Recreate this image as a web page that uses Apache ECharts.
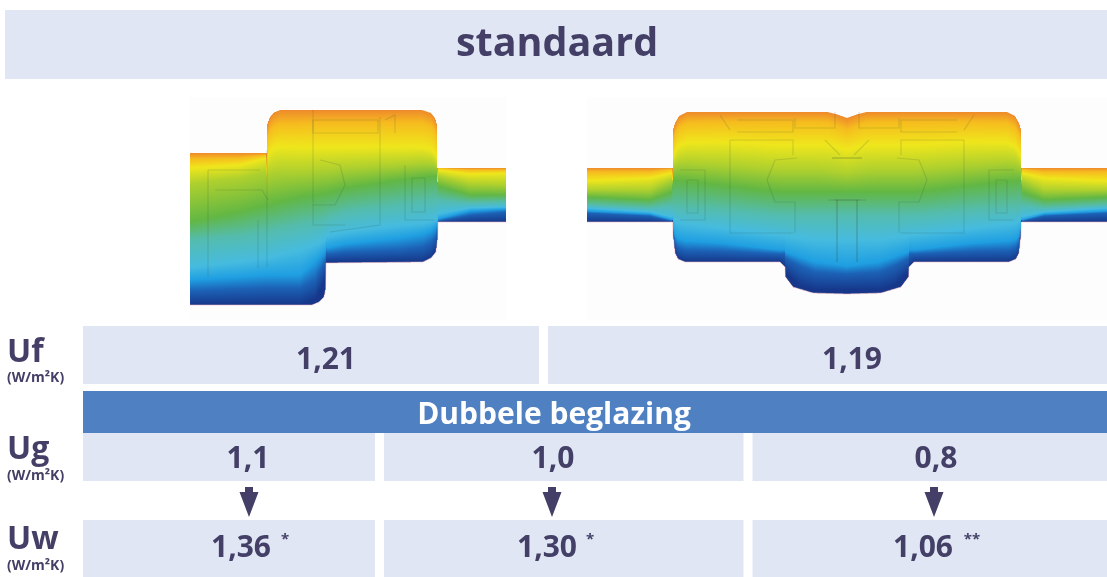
<!DOCTYPE html>
<html><head><meta charset="utf-8">
<style>html,body{margin:0;padding:0;background:#fff}#c{width:1107px;height:577px}</style>
<script src="https://cdn.jsdelivr.net/npm/echarts@6/dist/echarts.min.js"></script>
</head><body><div id="c"></div>
<script>
// ---- table values ----
const title = 'standaard';
const glazingLabel = 'Dubbele beglazing';
const unitLabel = '(W/m²K)';
const rowNames = ['Uf', 'Ug', 'Uw'];
const ufValues = ['1,21', '1,19'];
const ugValues = ['1,1', '1,0', '0,8'];
const uwValues = ['1,36', '1,30', '1,06'];
const uwNotes = ['*', '*', '**'];

// ---- thermal picture: colour of each isotherm ----
const isoColors = ['#ee8a2c','#f6bc1e','#efe61c','#aed02e','#62b744','#54bcae','#46bbdf','#1f9fe2','#1c62b6','#16378a'];

// left section: outline and isotherm heights
const leftTop = [[190,153],[266.5,153],[267,125],[270,117],[274,112.5],[280,110],[422,110],[431,113],[435,118],[437,125],[437.5,168],[506,168]];
const leftBottom = [[190,305],[312,305],[319,302],[324,297],[325.5,290],[326,263],[423,262],[431,258],[436,252],[437.5,240],[438,222],[506,222]];
const leftKnots = [190,240,266,267,300,315,325,327,345,400,437,438,470,506];
const leftIso = [
 [153,153,153,110,110,110,110,110,110,110,110,168,168,168],
 [159,158,155,124,124,123,123,123,123,123,123,168,170,170],
 [168,165,158,146,147,147,147,147,147,147,147,170,174,173],
 [184,178,172,172,172,171,170,170,168,165,162,176,184,185],
 [222,212,205,205,197,195,193,193,188,180,176,186,195,195],
 [240,236,232,232,225,222,220,218,212,205,200,200,203,202],
 [267,262,258,258,250,245,240,236,232,225,222,214,208,207],
 [280,277,275,275,275,262,252,248,244,238,232,219,211,209],
 [291,289,288,288,288,280,262,254,252,250,245,221,215,212],
 [305,305,305,305,305,300,280,262,262,262,262,222,222,222]
];

// right section (symmetric about its centre): left half
const rightCentre = 847;
const rightTop = [[587,168],[672.5,168],[673,130],[675,123],[679,116],[687,112],[828,112],[836,114],[847,118]];
const rightBottom = [[587,222],[672.5,222],[673,235],[675,253],[678,259],[685,262],[780,262],[785,267],[785.5,277],[793,287],[813,293],[847,294]];
const rightKnots = [587,650,672,673,720,780,785,800,815,847];
const rightIso = [
 [168,168,168,112,112,112,112,112,112,112],
 [172,172,169,123,122,122,122,122,122,124],
 [181,178,173,143,142,145,145,145,145,145],
 [190,190,180,162,165,170,170,170,170,172],
 [197,200,192,180,185,192,192,192,192,192],
 [205,208,205,207,210,215,215,215,215,215],
 [208,212,217,223,228,235,236,238,240,240],
 [211,214,220,240,243,250,252,257,262,266],
 [213,216,221,250,251,254,258,266,272,274],
 [222,222,222,262,262,262,272,286,290,290]
];

// faint profile lines inside the sections
const leftProfiles = [
 [[412,178],[425,178],[425,212],[412,212],[412,178]],
 [[405,165],[405,220],[435,220]],
 [[208,170],[208,277]],[[208,170],[260,170]],[[215,190],[262,190],[268,200]],
 [[267,150],[267,267]],[[258,220],[258,268]],
 [[313,120],[378,120],[378,133],[313,133],[313,120]],
 [[313,110],[313,225],[345,225]],[[380,117],[380,225],[330,232]],
 [[320,160],[340,165],[345,185],[335,205],[313,205]],
 [[385,120],[395,115],[395,133]]
];
const rightProfiles = [
 [[687,180],[698,180],[698,213],[687,213],[687,180]],
 [[680,170],[705,170],[705,220],[680,220]],
 [[730,140],[793,140],[793,155]],[[730,140],[730,233],[793,233]],
 [[737,120],[793,120],[793,132],[737,132]],
 [[797,158],[775,160],[767,180],[775,202],[795,202],[795,233]],
 [[832,158],[862,158]],[[837,200],[837,262]],[[857,200],[857,262]],
 [[828,200],[860,200]],[[795,118],[795,128],[835,128],[835,112]],
 [[720,115],[730,130]],[[825,140],[840,155]]
];

// ---- layout (pixels of the 1107x577 page) ----
const W = 1107, H = 577;
const textColor = '#433f66', cellColor = '#e0e6f4', blue = '#4f81c2';
const font = '"Open Sans","Noto Sans",sans-serif';
const bands = [[5,10,1107,79,cellColor],[83,326,539,384,cellColor],[548,326,1107,384,cellColor],
 [83,391,1107,433,blue],[83,433,375,481,cellColor],[384,433,743.5,481,cellColor],[752.5,433,1107,481,cellColor],
 [83,520,375,577,cellColor],[384,520,743.5,577,cellColor],[752.5,520,1107,577,cellColor],
 [190,97,506,320,'#fdfdfe'],[587,97,1107,320,'#fdfdfe']];
const arrowX = [249,552,934];
const topWeight = [1,1,0.8,0.3,0,0,0,0,0,0];
const botWeight = [0,0,0,0,0,0,0.2,0.5,0.8,1];

function lerp(xs, ys, x){
  if (x <= xs[0]) return ys[0];
  for (let i = 1; i < xs.length; i++) if (x <= xs[i]) {
    return ys[i-1] + (ys[i]-ys[i-1])*(x-xs[i-1])/(xs[i]-xs[i-1]);
  }
  return ys[ys.length-1];
}
const edge = (pts, x) => lerp(pts.map(p=>p[0]), pts.map(p=>p[1]), x);

function column(x, sx, topPts, botPts, knots, iso){
  const top = edge(topPts, sx), bot = edge(botPts, sx);
  const ys = iso.map(r => lerp(knots, r, sx));
  const dT = Math.max(0, top - ys[0]), dB = Math.min(0, bot - ys[9]);
  const stops = []; let prev = 0;
  ys.forEach((y,j) => {
    const yy = y + topWeight[j]*dT + botWeight[j]*dB;
    let o = (yy-top)/(bot-top);
    o = Math.max(prev, Math.min(1,o)); prev = o;
    stops.push({offset:o, color:isoColors[j]});
  });
  return {x, top, bot, stops};
}
const columns = [];
for (let x = 190; x < 506; x++) columns.push(column(x, x+0.5, leftTop, leftBottom, leftKnots, leftIso));
for (let x = 587; x < 1107; x++) {
  const sx = x+0.5 <= rightCentre ? x+0.5 : 2*rightCentre-(x+0.5);
  columns.push(column(x, sx, rightTop, rightBottom, rightKnots, rightIso));
}
const mirror = pts => pts.map(p => [2*rightCentre-p[0], p[1]]);
const profiles = leftProfiles.concat(rightProfiles, rightProfiles.map(mirror));
const rims = [leftBottom, rightBottom, mirror(rightBottom)];

const chart = echarts.init(document.getElementById('c'), null, {renderer:'canvas'});

function txt(t, x, y, size, opt){
  return {type:'text', x, y, silent:true, z:10, style:Object.assign({text:t, fill:textColor, font:`700 ${size}px ${font}`, textAlign:'center', textVerticalAlign:'middle'}, opt||{})};
}
const texts = [
  txt(title, 557, 45, 39.5),
  txt(glazingLabel, 554, 415, 30, {fill:'#fff'}),
  txt(ufValues[0], 326, 360, 30), txt(ufValues[1], 852, 360, 30),
  txt(ugValues[0], 248, 459, 30), txt(ugValues[1], 553, 459, 30), txt(ugValues[2], 936, 459, 30),
  txt(uwValues[0], 241, 548, 30), txt(uwValues[1], 547, 548, 30), txt(uwValues[2], 923, 548, 30),
  txt(uwNotes[0], 285, 540, 15), txt(uwNotes[1], 590, 540, 15), txt(uwNotes[2], 972, 540, 15),
  txt(rowNames[0], 7, 353, 32, {textAlign:'left'}), txt(unitLabel, 7, 378, 14, {textAlign:'left'}),
  txt(rowNames[1], 7, 450, 32, {textAlign:'left'}), txt(unitLabel, 7, 476, 14, {textAlign:'left'}),
  txt(rowNames[2], 7, 540, 32, {textAlign:'left'}), txt(unitLabel, 7, 566, 14, {textAlign:'left'})
];

chart.setOption({
  animation:false,
  grid:{left:0,right:0,top:0,bottom:0,containLabel:false},
  xAxis:{type:'value',min:0,max:W,show:false},
  yAxis:{type:'value',min:0,max:H,inverse:true,show:false},
  graphic:{elements:texts},
  series:[
    {type:'custom',silent:true,z:1,clip:false,data:bands.map(b=>[b[0],b[1],b[2],b[3]]),
     renderItem:(p,api)=>{const b=bands[p.dataIndex];const a=api.coord([b[0],b[1]]),c=api.coord([b[2],b[3]]);
       return {type:'rect',shape:{x:a[0],y:a[1],width:c[0]-a[0],height:c[1]-a[1]},style:{fill:b[4]}};}},
    {type:'custom',silent:true,z:2,clip:false,data:columns.map(c=>[c.x,c.top,c.bot]),
     renderItem:(p,api)=>{const c=columns[p.dataIndex];const a=api.coord([c.x,c.top]),e=api.coord([c.x+1,c.bot]);
       return {type:'rect',shape:{x:a[0],y:a[1],width:e[0]-a[0],height:e[1]-a[1]},
         style:{fill:new echarts.graphic.LinearGradient(0,0,0,1,c.stops)}};}},
    {type:'custom',silent:true,z:3,clip:false,data:profiles.map((q,i)=>[i,i]),
     renderItem:(p,api)=>({type:'polyline',shape:{points:profiles[p.dataIndex].map(q=>api.coord(q))},
       style:{fill:null,stroke:'#2a4a3a',opacity:0.16,lineWidth:1.2}})},
    {type:'custom',silent:true,z:3,clip:false,data:rims.map((q,i)=>[i,i]),
     renderItem:(p,api)=>({type:'polyline',shape:{points:rims[p.dataIndex].map(q=>api.coord(q))},
       style:{fill:null,stroke:'#f4b8c0',opacity:0.55,lineWidth:1}})},
    {type:'custom',silent:true,z:4,clip:false,data:arrowX.map(x=>[x,502]),
     renderItem:(p,api)=>{const x=arrowX[p.dataIndex];
       const pts=[[x-4,487],[x+4,487],[x+4,492],[x+9.5,492],[x,517],[x-9.5,492],[x-4,492]].map(q=>api.coord(q));
       return {type:'polygon',shape:{points:pts},style:{fill:'#433f66'}};}}
  ]
});
</script></body></html>
